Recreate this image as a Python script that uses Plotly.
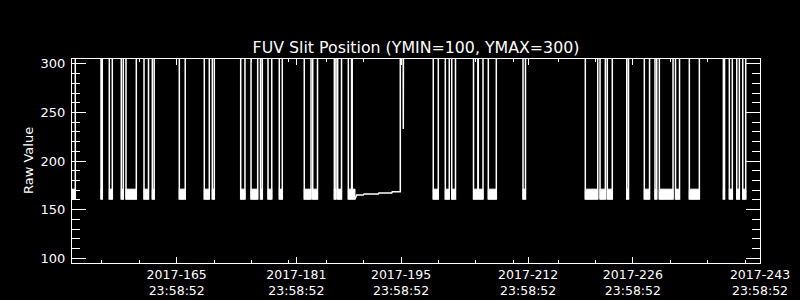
import plotly.graph_objects as go

# ---------------- data (day-of-year 2017) ----------------
x_min, x_max = 151.0, 243.0
y_min, y_max = 95, 305

# periods where the slit sits in the low (~161-171) position
low_start = [151.00, 154.88, 155.99, 157.59, 158.22, 160.63, 161.74, 165.35, 168.69, 169.76,
             173.56, 174.94, 176.21, 177.21, 178.72, 182.06, 183.19, 186.08, 186.53, 187.95,
             188.47, 199.31, 200.92, 201.78, 204.69, 205.33, 206.67, 211.31, 219.64, 221.61,
             222.58, 225.18, 227.53, 228.96, 229.54, 231.70, 233.55, 238.10, 238.90, 239.89,
             240.69]
low_end = [151.44, 155.05, 156.39, 157.86, 159.60, 161.23, 161.99, 166.14, 169.36, 170.03,
           174.13, 175.83, 176.45, 177.71, 179.12, 182.96, 183.83, 186.30, 187.04, 188.38,
           188.84, 199.98, 201.45, 202.28, 205.27, 205.96, 207.74, 211.64, 221.30, 222.32,
           223.25, 225.42, 228.23, 229.19, 231.37, 232.24, 234.89, 238.26, 239.30, 240.24,
           241.09]
low_min = [161] * len(low_start)
low_max = [171] * len(low_start)

# high (out-of-range) position value
high_val = 320

# sparse segment following the block that ends at 188.84
gap_block = 20
gap_day = [189.07, 189.95, 190.05, 191.96, 192.05, 193.75, 193.83, 194.90]
gap_val = [164.9, 164.9, 166.0, 166.0, 167.0, 167.0, 168.4, 168.4]

# single partial dip
dip_day = [195.28, 195.30, 195.32]
dip_val = [320, 233, 320]

# axis ticks
x_major = [165, 181, 195, 212, 226, 243]
x_major_text = ["2017-165<br>23:58:52", "2017-181<br>23:58:52", "2017-195<br>23:58:52",
                "2017-212<br>23:58:52", "2017-226<br>23:58:52", "2017-243<br>23:58:52"]
x_minor = [155, 160, 170, 175, 180, 185, 190, 200, 205, 210, 216, 221, 231, 236, 241]
y_major = [100, 150, 200, 250, 300]

# ---------------- build line path ----------------
xs, ys = [], []
for i, (s, e) in enumerate(zip(low_start, low_end)):
    lo = low_min[i]
    if s > x_min:
        xs += [s, s]
        ys += [high_val, lo]
    else:
        xs += [s]
        ys += [lo]
    xs += [e]
    ys += [lo]
    end_x = e
    if i == gap_block:
        xs += gap_day
        ys += gap_val
        end_x = gap_day[-1]
    xs += [end_x]
    ys += [high_val]
xs += [x_max]
ys += [high_val]

# filled blocks for the dense low-state noise
bx, by = [], []
for s, e, lo, hi in zip(low_start, low_end, low_min, low_max):
    bx += [s, e, e, s, s, None]
    by += [lo, lo, hi, hi, lo, None]

fig = go.Figure()
fig.add_trace(go.Scatter(x=bx, y=by, mode="lines", fill="toself", fillcolor="white",
                         line=dict(color="white", width=1), hoverinfo="skip"))
fig.add_trace(go.Scatter(x=xs, y=ys, mode="lines", line=dict(color="white", width=1.5)))
fig.add_trace(go.Scatter(x=dip_day, y=dip_val, mode="lines", line=dict(color="white", width=1.5)))

font = "DejaVu Sans"
fig.update_layout(
    width=800, height=300,
    margin=dict(l=72, r=40, t=59, b=37, autoexpand=False),
    paper_bgcolor="black", plot_bgcolor="black",
    showlegend=False,
    font=dict(family=font, color="white", size=13),
    title=dict(text="FUV Slit Position (YMIN=100, YMAX=300)", xref="paper", x=0.5,
               xanchor="center", yref="container", y=1 - 47 / 300, yanchor="middle",
               font=dict(family=font, size=15.8, color="white"), automargin=False),
)
fig.update_xaxes(
    range=[x_min, x_max], showgrid=False, zeroline=False, automargin=False,
    showline=True, linecolor="white", linewidth=1, mirror="ticks",
    ticks="inside", ticklen=6, tickcolor="white", tickwidth=1,
    tickmode="array", tickvals=x_major, ticktext=x_major_text,
    tickfont=dict(family=font, size=12.5, color="white"),
    minor=dict(tickmode="array", tickvals=x_minor, ticks="inside", ticklen=3,
               tickcolor="white", tickwidth=1, showgrid=False),
)
fig.update_yaxes(
    range=[y_min, y_max], showgrid=False, zeroline=False, automargin=False,
    showline=True, linecolor="white", linewidth=1, mirror="ticks",
    ticks="inside", ticklen=14, tickcolor="white", tickwidth=1,
    tickmode="array", tickvals=y_major,
    tickfont=dict(family=font, size=13, color="white"),
    ticklabelstandoff=3,
    minor=dict(dtick=10, tick0=100, ticks="inside", ticklen=8, tickcolor="white",
               tickwidth=1, showgrid=False),
)
fig.add_annotation(text="Raw Value", textangle=-90, xref="paper", yref="paper",
                   x=(28 - 72) / 688, y=0.5, xanchor="center", yanchor="middle",
                   showarrow=False, font=dict(family=font, size=13, color="white"))

fig.write_html("out.html")
